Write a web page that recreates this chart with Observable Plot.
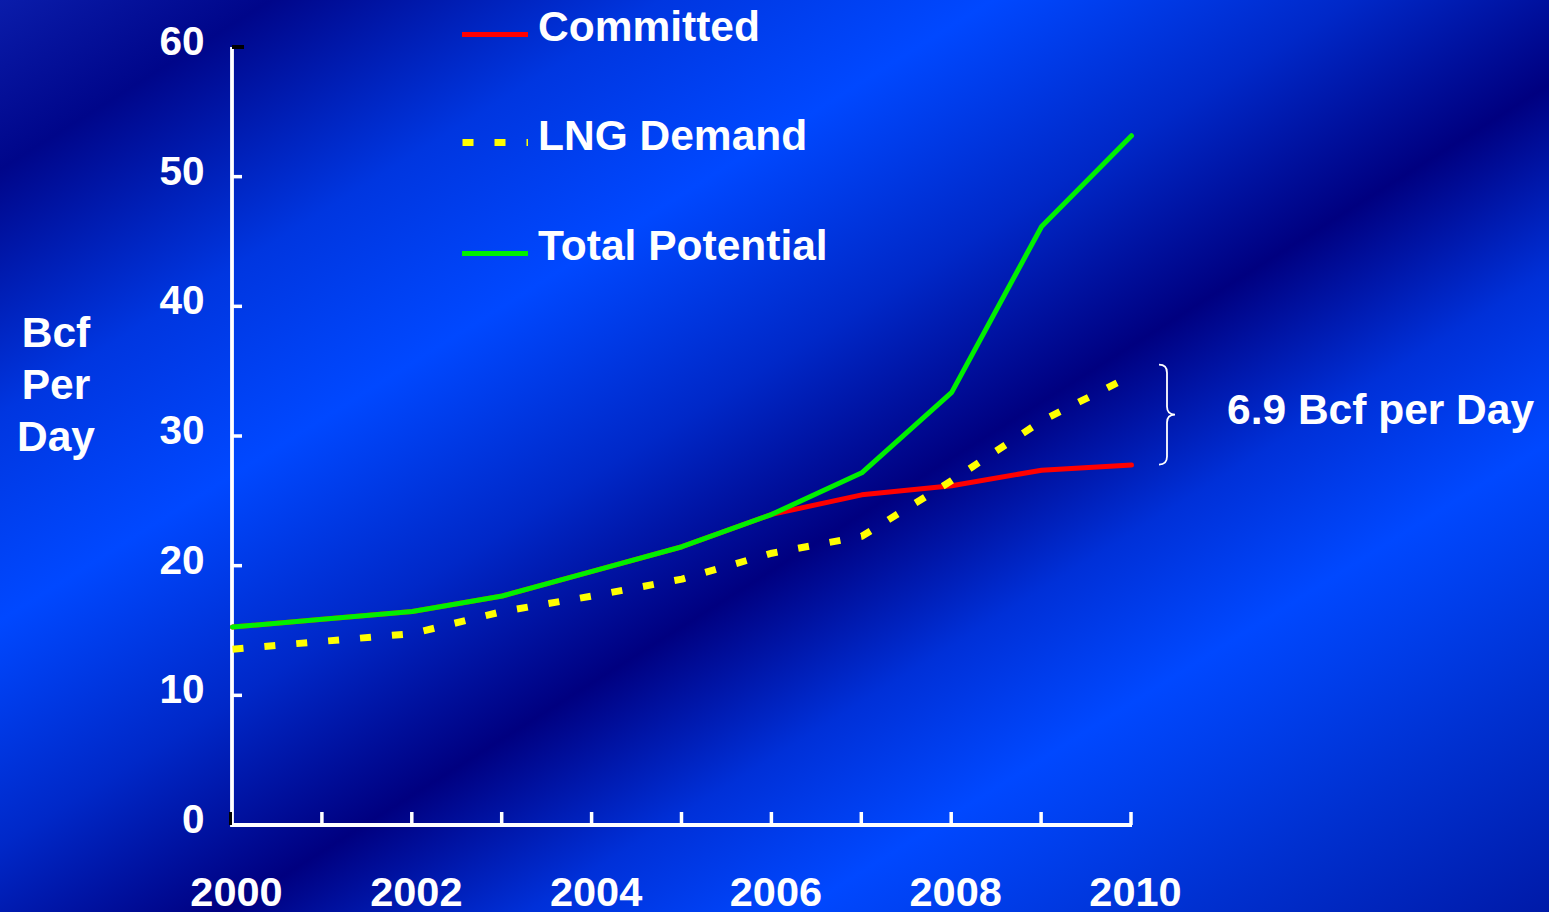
<!DOCTYPE html>
<html>
<head>
<meta charset="utf-8">
<script src="https://cdn.jsdelivr.net/npm/d3@7"></script>
<script src="https://cdn.jsdelivr.net/npm/@observablehq/plot@0.6"></script>
<style>
html, body { margin: 0; padding: 0; }
body { width: 1549px; height: 912px; overflow: hidden; font-family: "Liberation Sans", Arial, sans-serif; font-weight: bold; color: #fff; }
#wrap { position: relative; width: 1549px; height: 912px;
  background: linear-gradient(148deg, #0a1caa 0%, #00068a 9%, #0036e0 22%, #0048ff 33%, #0028c8 45%, #000080 56%, #0030d8 66%, #0048ff 75%, #0030d0 88%, #001aa8 100%); }
#chart { position: absolute; left: 0; top: 0; }
.t { position: absolute; font-size: 42.5px; line-height: 42.5px; white-space: nowrap; }
.sw { position: absolute; left: 462px; width: 66px; height: 8px; }
</style>
</head>
<body>
<div id="wrap">
  <div id="chart"></div>
  <svg class="sw" style="top:30px" width="66" height="8"><line x1="0" x2="66" y1="4.5" y2="4.5" stroke="#ff0000" stroke-width="5"/></svg>
  <div class="t" style="left:538px;top:6px">Committed</div>
  <svg class="sw" style="top:139px" width="66" height="8"><line x1="0.5" x2="66" y1="3.5" y2="3.5" stroke="#ffff00" stroke-width="7" stroke-dasharray="11,21"/></svg>
  <div class="t" style="left:538px;top:115px">LNG Demand</div>
  <svg class="sw" style="top:249px" width="66" height="8"><line x1="0" x2="66" y1="4.5" y2="4.5" stroke="#00f000" stroke-width="5"/></svg>
  <div class="t" style="left:538px;top:225px">Total Potential</div>
  <div class="t" style="left:0px;width:112px;top:307px;line-height:52px;text-align:center;">Bcf<br>Per<br>Day</div>
  <div class="t" style="left:1227px;top:389px">6.9 Bcf per Day</div>
</div>
<script>
// ---- data ----
const years = [2000, 2001, 2002, 2003, 2004, 2005, 2006, 2007, 2008, 2009, 2010];
const committed = [15.3, 15.9, 16.5, 17.7, 19.6, 21.5, 24.0, 25.5, 26.2, 27.4, 27.8];
const lngDemand = [13.6, 14.2, 14.8, 16.5, 17.7, 19.0, 21.0, 22.3, 26.6, 31.2, 34.7];
const totalPotential = [15.3, 15.9, 16.5, 17.7, 19.6, 21.5, 24.0, 27.2, 33.4, 46.2, 53.2];
const yTicks = [0, 10, 20, 30, 40, 50, 60];
const xLabelYears = [2000, 2002, 2004, 2006, 2008, 2010];
const braceRange = [27.8, 35.5]; // span of the "6.9 Bcf per Day" brace
const braceYear = 2010;

const rows = (vals) => years.map((yr, i) => ({year: yr, value: vals[i]}));

// custom axis lines and inward ticks, drawn through Plot's scales
function axisDecor(index, scales) {
  const x = scales.x, y = scales.y;
  const g = d3.create("svg:g");
  const x0 = x(years[0]), x1 = x(years[years.length - 1]);
  const y0 = y(yTicks[0]), yTop = y(yTicks[yTicks.length - 1]);
  g.append("line").attr("x1", x0).attr("x2", x0).attr("y1", yTop).attr("y2", y0 + 2)
    .attr("stroke", "#fff").attr("stroke-width", 3.8);
  g.append("line").attr("x1", x0).attr("x2", x1 + 1).attr("y1", y0).attr("y2", y0)
    .attr("stroke", "#fff").attr("stroke-width", 4);
  for (const v of yTicks.slice(1, -1)) {
    g.append("line").attr("x1", x0).attr("x2", x0 + 10).attr("y1", y(v)).attr("y2", y(v))
      .attr("stroke", "#fff").attr("stroke-width", 3.5);
  }
  for (const yr of years.slice(1)) {
    g.append("line").attr("x1", x(yr)).attr("x2", x(yr)).attr("y1", y0).attr("y2", y0 - 13)
      .attr("stroke", "#fff").attr("stroke-width", 3.5);
  }
  g.append("line").attr("x1", x0).attr("x2", x0 + 12).attr("y1", yTop).attr("y2", yTop)
    .attr("stroke", "#000").attr("stroke-width", 4);
  g.append("line").attr("x1", x0 - 1.5).attr("x2", x0 - 1.5).attr("y1", y0 - 13).attr("y2", y0)
    .attr("stroke", "#000").attr("stroke-width", 3);
  return g.node();
}

// curly brace annotation
function brace(index, scales) {
  const x = scales.x, y = scales.y;
  const bx = x(braceYear) + 28;
  const yt = y(braceRange[1]), yb = y(braceRange[0]);
  const ym = (yt + yb) / 2;
  const w = 8, tip = 16, r = 8;
  const path = `M${bx},${yt} Q${bx + w},${yt} ${bx + w},${yt + r} L${bx + w},${ym - r} Q${bx + w},${ym} ${bx + tip},${ym} Q${bx + w},${ym} ${bx + w},${ym + r} L${bx + w},${yb - r} Q${bx + w},${yb} ${bx},${yb}`;
  const g = d3.create("svg:g");
  g.append("path").attr("d", path).attr("fill", "none").attr("stroke", "#fff").attr("stroke-width", 1.8);
  return g.node();
}

const chart = Plot.plot({
  width: 1549,
  height: 912,
  marginLeft: 232,
  marginRight: 418,
  marginTop: 47,
  marginBottom: 87,
  style: {background: "transparent", color: "#fff", fontFamily: "'Liberation Sans', Arial, sans-serif", overflow: "visible"},
  x: {domain: [years[0], years[years.length - 1]]},
  y: {domain: [yTicks[0], yTicks[yTicks.length - 1]]},
  marks: [
    Plot.axisY({ticks: yTicks, tickSize: 0, tickPadding: 28, fontSize: 40.5, fontWeight: "bold", dy: -5.5, label: null, fill: "#fff"}),
    Plot.axisX({ticks: xLabelYears, tickSize: 0, tickPadding: 51, fontSize: 41.5, fontWeight: "bold", dx: 4, tickFormat: "d", label: null, fill: "#fff"}),
    axisDecor,
    Plot.line(rows(committed), {x: "year", y: "value", stroke: "#ff0000", strokeWidth: 5}),
    Plot.line(rows(lngDemand), {x: "year", y: "value", stroke: "#ffff00", strokeWidth: 7, strokeDasharray: "11,21", strokeLinecap: "butt"}),
    Plot.line(rows(totalPotential), {x: "year", y: "value", stroke: "#00f000", strokeWidth: 5}),
    brace
  ]
});
document.getElementById("chart").appendChild(chart);
</script>
</body>
</html>
